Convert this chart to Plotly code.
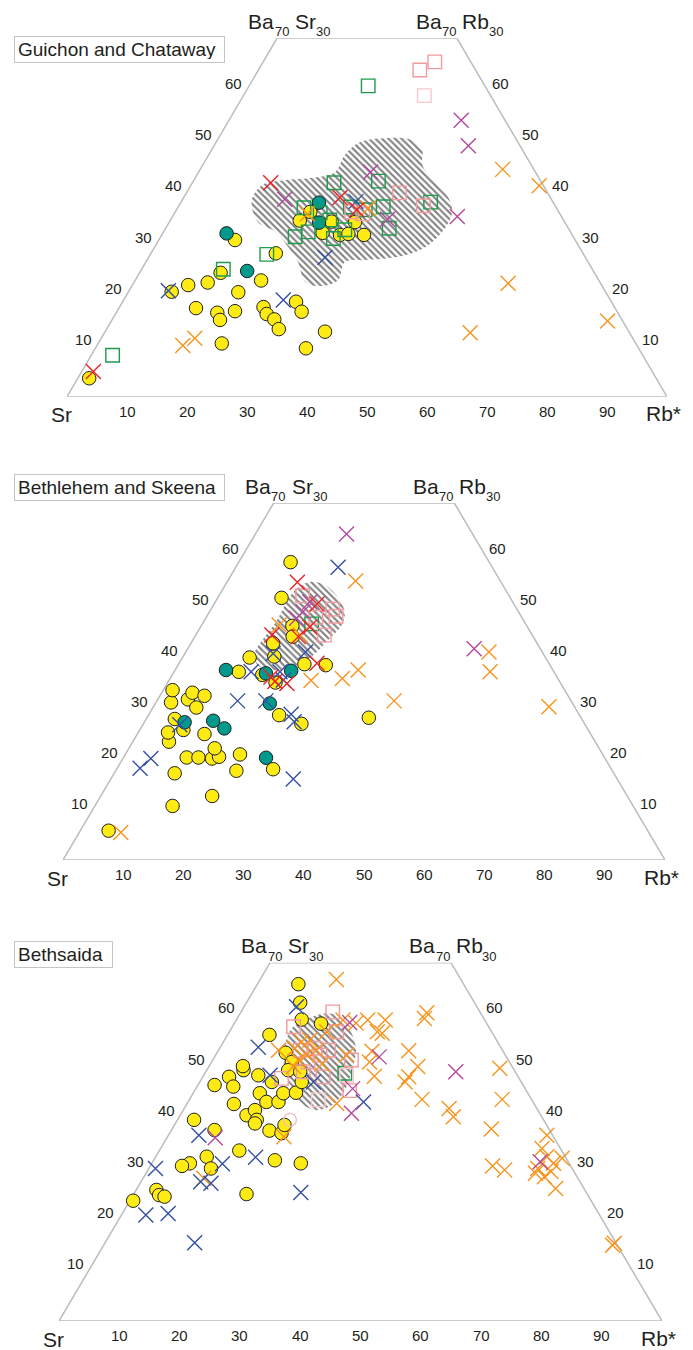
import plotly.graph_objects as go

# Each composition is (Ba, Rb*) in percent of Ba + Sr + Rb*; Sr is the remainder.

# ---------------- Guichon and Chataway ----------------
gc_yellow = [(3.6, 1.9), (30.6, 12.7), (28.0, 20.8), (24.2, 13.5), (21.8, 9.3), (22.3, 12.3),
             (20.5, 7.2), (20.4, 18.35), (22.7, 21.0), (17.3, 12.85), (16.4, 16.85), (15.0, 18.0),
             (16.7, 19.65), (17.5, 24.0), (16.15, 25.2), (15.1, 27.0), (13.2, 28.7), (18.55, 28.9),
             (16.6, 30.8), (12.7, 36.65), (9.45, 35.1), (10.4, 20.6), (31.6, 33.7), (34.4, 21.6),
             (32.0, 26.6), (31.6, 29.7), (31.8, 31.0), (34.2, 27.0), (36.1, 22.5), (34.1, 30.95)]
gc_teal = [(31.9, 10.65), (24.55, 17.75), (37.9, 23.05), (34.0, 25.0)]
gc_green_sq = [(8.1, 3.55), (24.9, 13.6), (27.8, 19.4), (31.25, 22.4), (60.7, 19.85), (42.1, 30.85),
               (38.0, 41.6), (37.1, 34.15), (32.9, 37.25), (41.8, 23.6), (36.9, 21.05), (32.2, 24.1),
               (30.9, 28.95), (32.6, 30.0), (34.5, 26.55), (37.05, 28.7), (36.5, 31.45), (35.9, 24.25)]
gc_pink_sq = [(63.8, 26.9), (65.4, 28.6), (39.8, 35.5), (37.3, 40.75), (36.1, 29.4), (35.7, 31.45)]
gc_lightpink_sq = [(58.8, 30.15)]
gc_pink_ci = []
gc_red_x = [(4.9, 1.95), (41.8, 13.05), (38.9, 26.05), (36.5, 30.05)]
gc_magenta_x = [(38.55, 17.0), (43.9, 28.65), (34.65, 36.1), (35.2, 47.45), (54.0, 38.7), (49.0, 42.4)]
gc_orange_x = [(10.0, 14.3), (11.4, 15.6), (35.7, 22.2), (36.8, 31.8), (44.4, 50.4), (41.2, 58.1),
               (22.15, 62.45), (12.5, 60.95), (14.8, 82.7)]
gc_blue_x = [(20.7, 6.55), (18.9, 26.6), (27.2, 29.4), (38.1, 29.1)]
gc_field = [(38.4, 11.6), (41.3, 11.85), (42.3, 15.2), (42.7, 19.15), (43.9, 22.75), (47.2, 22.7),
            (49.7, 23.95), (50.5, 27.75), (50.1, 32.45), (48.2, 35.1), (45.25, 36.6), (41.9, 40.35),
            (39.0, 44.0), (36.1, 46.15), (32.9, 46.55), (29.6, 45.4), (27.9, 43.25), (27.1, 40.25),
            (26.7, 36.35), (26.3, 33.15), (22.8, 33.8), (21.6, 31.4), (22.4, 28.5), (26.3, 25.35),
            (28.65, 22.9), (32.2, 18.6), (34.1, 14.75)]

# ---------------- Bethlehem and Skeena ----------------
bs_yellow = [(5.75, 4.7), (10.6, 12.9), (17.0, 10.05), (12.55, 18.5), (20.1, 10.5), (20.1, 12.45),
             (19.9, 14.8), (20.25, 15.8), (21.9, 14.25), (20.7, 19.05), (17.5, 20.05), (17.8, 26.0),
             (23.2, 6.0), (25.0, 4.95), (27.65, 4.75), (25.5, 7.25), (24.7, 11.15), (28.4, 21.7),
             (26.7, 26.25), (27.9, 36.85), (30.9, 2.5), (33.3, 1.55), (31.5, 5.0), (32.8, 5.1),
             (32.2, 7.4), (29.9, 7.2), (36.9, 10.75), (36.3, 14.95), (34.8, 17.9), (39.7, 11.15),
             (39.9, 15.15), (38.4, 20.9), (38.2, 24.55), (58.4, 8.6), (51.4, 10.6), (45.9, 15.15),
             (43.8, 16.25), (42.5, 13.65)]
bs_teal = [(27.0, 6.7), (27.3, 11.3), (25.8, 13.9), (20.05, 23.7), (30.7, 19.0), (37.25, 8.45),
           (36.6, 15.4), (37.1, 19.35)]
bs_green_sq = [(46.3, 18.15)]
bs_pink_sq = [(51.8, 13.9), (49.2, 20.2), (47.8, 21.45), (47.6, 18.2), (44.1, 21.35)]
bs_lightpink_sq = []
bs_pink_ci = []
bs_red_x = [(54.45, 11.7), (50.2, 17.1), (45.7, 18.15), (44.1, 12.65), (43.8, 17.2), (38.6, 22.9),
            (35.0, 17.7), (34.6, 19.9), (35.9, 16.6)]
bs_magenta_x = [(63.9, 15.15), (41.4, 47.6), (50.6, 15.7), (48.7, 15.55), (47.4, 15.1)]
bs_orange_x = [(5.4, 6.9), (35.2, 23.6), (35.6, 28.6), (37.25, 30.4), (31.2, 39.4), (40.8, 50.35),
               (36.9, 52.5), (30.05, 65.7), (54.7, 21.25), (46.1, 12.85), (44.1, 17.35)]
bs_blue_x = [(18.0, 3.8), (19.9, 4.65), (31.2, 13.4), (31.2, 18.1), (28.6, 23.6), (27.1, 24.85),
             (15.9, 30.3), (26.5, 6.15), (36.9, 12.8), (36.9, 17.6), (40.5, 14.65), (40.8, 19.9),
             (57.4, 17.0), (35.3, 18.95)]
bs_field = [(40.8, 11.5), (43.1, 11.55), (46.7, 12.05), (50.0, 11.9), (52.9, 12.05), (54.5, 13.75),
            (53.9, 16.55), (51.4, 20.0), (48.6, 22.5), (46.1, 23.25), (43.1, 22.45), (40.0, 21.4),
            (37.8, 19.1), (37.25, 15.8), (38.4, 13.0)]

# ---------------- Bethsaida ----------------
bt_yellow = [(65.8, 6.8), (62.2, 8.9), (58.9, 10.8), (58.1, 14.4), (55.9, 6.95), (52.4, 11.4),
             (50.6, 13.3), (49.0, 13.5), (48.0, 9.05), (49.0, 6.1), (49.8, 5.6), (47.7, 4.35),
             (45.8, 6.0), (46.1, 2.75), (46.7, 11.95), (44.5, 11.05), (42.8, 13.0), (42.8, 15.0),
             (44.5, 14.95), (44.6, 17.0), (46.7, 16.9), (48.7, 15.65), (42.4, 7.8), (40.2, 11.0),
             (41.2, 11.9), (39.3, 13.15), (38.6, 13.2), (37.2, 16.3), (36.7, 18.55), (38.3, 18.25),
             (33.3, 13.25), (31.4, 20.1), (39.3, 2.75), (37.3, 7.15), (30.8, 24.7), (32.1, 8.45),
             (29.8, 10.3), (30.8, 6.3), (30.3, 5.25), (25.6, 3.35), (24.6, 4.3), (24.3, 5.35),
             (23.5, 0.55), (24.8, 18.7)]
bt_teal = []
bt_green_sq = [(48.4, 23.2)]
bt_pink_sq = [(60.4, 15.2), (57.5, 10.15), (56.5, 17.8), (52.9, 13.55), (53.3, 15.8), (51.95, 17.3),
              (52.9, 18.25), (51.0, 23.0), (45.0, 25.7), (47.4, 13.2), (48.7, 16.15), (47.7, 19.95),
              (50.6, 16.0)]
bt_lightpink_sq = [(48.0, 23.7), (43.2, 21.4)]
bt_pink_ci = [(39.3, 18.65)]
bt_red_x = []
bt_magenta_x = [(58.3, 19.05), (51.6, 27.3), (45.4, 26.0), (40.6, 28.2), (48.7, 41.45), (35.8, 8.0),
                (31.1, 64.25)]
bt_orange_x = [(66.7, 12.65), (36.0, 19.3), (52.9, 9.95), (54.55, 12.95), (52.9, 16.25), (42.5, 24.8),
               (58.2, 20.15), (58.8, 21.8), (56.5, 24.55), (58.8, 24.7), (56.2, 25.5), (52.7, 25.55),
               (50.6, 26.2), (47.8, 28.4), (58.8, 17.7), (56.5, 16.15), (51.95, 21.7), (51.95, 15.1),
               (51.0, 14.2), (49.7, 14.05), (59.1, 31.05), (60.2, 30.9), (52.8, 31.6), (49.7, 34.65),
               (47.7, 34.15), (46.7, 34.05), (43.3, 38.55), (41.5, 43.95), (39.9, 45.45), (37.5, 52.95),
               (49.4, 48.4), (43.3, 51.85), (36.3, 62.75), (30.3, 56.75), (29.5, 59.15), (33.7, 63.25),
               (32.1, 64.85), (31.8, 67.55), (30.8, 66.6), (29.8, 64.5), (28.85, 64.6), (29.2, 67.0),
               (28.2, 66.4), (25.9, 69.4), (15.2, 84.5), (14.8, 84.4), (27.9, 10.05), (54.9, 14.15),
               (53.3, 12.45), (50.2, 18.5)]
bt_blue_x = [(61.4, 8.7), (53.5, 6.3), (48.0, 11.0), (42.8, 29.1), (32.0, 16.6), (36.3, 5.05),
             (30.7, 11.75), (29.8, 1.1), (27.2, 9.9), (26.9, 11.75), (25.1, 27.55), (20.7, 4.05),
             (21.0, 7.6), (15.3, 14.85), (46.7, 18.85)]
bt_field = [(53.9, 10.55), (57.2, 10.0), (58.8, 11.4), (60.0, 13.6), (59.6, 16.5), (56.8, 19.9),
            (52.9, 22.8), (49.0, 24.1), (45.1, 24.85), (42.2, 24.2), (41.2, 21.85), (42.8, 18.6),
            (46.1, 15.25), (50.0, 12.3)]

BOTTOM_TICKS = [10, 20, 30, 40, 50, 60, 70, 80, 90]
SIDE_TICKS = [10, 20, 30, 40, 50, 60]
BA_MAX = 70

# ---------------- layout geometry (pixels) ----------------
FIG_W, FIG_H = 693, 1350
panels = [
    dict(title="Guichon and Chataway", left=67, right=667, base=396.7, top=38.3,
         box=(13.5, 36.0, 211),
         groups=dict(field=gc_field, yellow=gc_yellow, teal=gc_teal, pink_ci=gc_pink_ci,
                     green_sq=gc_green_sq, pink_sq=gc_pink_sq, lightpink_sq=gc_lightpink_sq,
                     orange_x=gc_orange_x, blue_x=gc_blue_x, magenta_x=gc_magenta_x, red_x=gc_red_x)),
    dict(title="Bethlehem and Skeena", left=63, right=665, base=860.0, top=503.0,
         box=(14.0, 474.0, 211),
         groups=dict(field=bs_field, yellow=bs_yellow, teal=bs_teal, pink_ci=bs_pink_ci,
                     green_sq=bs_green_sq, pink_sq=bs_pink_sq, lightpink_sq=bs_lightpink_sq,
                     orange_x=bs_orange_x, blue_x=bs_blue_x, magenta_x=bs_magenta_x, red_x=bs_red_x)),
    dict(title="Bethsaida", left=59, right=662, base=1321.0, top=962.7,
         box=(13.5, 940.7, 99),
         groups=dict(field=bt_field, yellow=bt_yellow, teal=bt_teal, pink_ci=bt_pink_ci,
                     green_sq=bt_green_sq, pink_sq=bt_pink_sq, lightpink_sq=bt_lightpink_sq,
                     orange_x=bt_orange_x, blue_x=bt_blue_x, magenta_x=bt_magenta_x, red_x=bt_red_x)),
]

OUTLINE = "#1e1e1e"
STYLES = {
    "yellow": dict(symbol="circle", size=13.5, color="#ffeb14", line=dict(color=OUTLINE, width=1)),
    "teal": dict(symbol="circle", size=13.5, color="#00998b", line=dict(color=OUTLINE, width=1)),
    "pink_ci": dict(symbol="circle-open", size=13, color="#f7bcc2", line=dict(color="#f7bcc2", width=1.4)),
    "green_sq": dict(symbol="square-open", size=13.5, color="#1f9a4d", line=dict(color="#1f9a4d", width=1.4)),
    "pink_sq": dict(symbol="square-open", size=13.5, color="#f39a9e", line=dict(color="#f39a9e", width=1.4)),
    "lightpink_sq": dict(symbol="square-open", size=13.5, color="#f8c8cb", line=dict(color="#f8c8cb", width=1.4)),
    "orange_x": dict(symbol="x-thin-open", size=15, color="#f7941d", line=dict(color="#f7941d", width=1.4)),
    "blue_x": dict(symbol="x-thin-open", size=15, color="#3450a2", line=dict(color="#3450a2", width=1.4)),
    "magenta_x": dict(symbol="x-thin-open", size=15, color="#b4489d", line=dict(color="#b4489d", width=1.4)),
    "red_x": dict(symbol="x-thin-open", size=15, color="#ed2024", line=dict(color="#ed2024", width=1.4)),
}
DRAW_ORDER = ["yellow", "teal", "pink_ci", "green_sq", "pink_sq", "lightpink_sq",
              "orange_x", "blue_x", "magenta_x", "red_x"]

# apex labels built from pieces: (text, font size, x offset from apex, y offset above apex)
APEX_LEFT = [("Ba", 21, -31, 16.8), ("70", 13, -4.5, 6.5), ("Sr", 21, 16, 16.8), ("30", 13, 37, 6.5)]
APEX_RIGHT = [("Ba", 21, -43.5, 16.8), ("70", 13, -17.3, 6.5), ("Rb", 21, 3, 16.8), ("30", 13, 29.5, 6.5)]


def to_xy(points):
    """Ternary (Ba, Rb*) -> plane: x along Sr-Rb* base, y = Ba."""
    xs = [rb + ba / 2.0 for ba, rb in points]
    ys = [ba for ba, _ in points]
    return xs, ys


FONT = "Arial, Liberation Sans, Helvetica, sans-serif"
TEXT = "#231f20"
FRAME = "#bcbcbc"

fig = go.Figure()
annotations = []
layout_axes = {}

for i, p in enumerate(panels, start=1):
    sfx = "" if i == 1 else str(i)
    xa, ya = "x" + sfx, "y" + sfx
    layout_axes["xaxis" + sfx] = dict(domain=[p["left"] / FIG_W, p["right"] / FIG_W], range=[0, 100],
                                      visible=False, fixedrange=True, anchor=ya)
    layout_axes["yaxis" + sfx] = dict(domain=[1 - p["base"] / FIG_H, 1 - p["top"] / FIG_H],
                                      range=[0, BA_MAX], visible=False, fixedrange=True, anchor=xa)

    # hatched field
    fx, fy = to_xy(p["groups"]["field"] + p["groups"]["field"][:1])
    fig.add_trace(go.Scatter(x=fx, y=fy, xaxis=xa, yaxis=ya, mode="lines", fill="toself",
                             line=dict(width=0, shape="spline", smoothing=1.0),
                             fillcolor="rgba(255,255,255,0)",
                             fillpattern=dict(shape="\\", size=4.6, solidity=0.45,
                                              fgcolor="#000000", bgcolor="rgba(255,255,255,0)"),
                             hoverinfo="skip"))

    # trapezoid frame: Sr, Rb*, Ba70Rb30, Ba70Sr30
    corners = [(0, 0), (0, 100), (BA_MAX, 100 - BA_MAX), (BA_MAX, 0), (0, 0)]
    cx, cy = to_xy(corners)
    fig.add_trace(go.Scatter(x=cx, y=cy, xaxis=xa, yaxis=ya, mode="lines",
                             line=dict(color=FRAME, width=1.5), hoverinfo="skip", cliponaxis=False))

    for key in DRAW_ORDER:
        pts = p["groups"][key]
        if not pts:
            continue
        x, y = to_xy(pts)
        fig.add_trace(go.Scatter(x=x, y=y, xaxis=xa, yaxis=ya, mode="markers",
                                 marker=STYLES[key], cliponaxis=False, hoverinfo="skip"))

    # tick labels
    for v in BOTTOM_TICKS:
        annotations.append(dict(x=v, y=0, xref=xa, yref=ya, text=str(v), showarrow=False,
                                xanchor="center", yanchor="top", yshift=-4,
                                font=dict(family=FONT, size=15, color=TEXT)))
    for v in SIDE_TICKS:
        lx, ly = to_xy([(v, 0)])
        annotations.append(dict(x=lx[0], y=ly[0], xref=xa, yref=ya, text=str(v), showarrow=False,
                                xanchor="right", yanchor="middle", xshift=-3, yshift=6,
                                font=dict(family=FONT, size=15, color=TEXT)))
        rx, ry = to_xy([(v, 100 - v)])
        annotations.append(dict(x=rx[0], y=ry[0], xref=xa, yref=ya, text=str(v), showarrow=False,
                                xanchor="left", yanchor="middle", xshift=3, yshift=6,
                                font=dict(family=FONT, size=15, color=TEXT)))

    # apex labels
    for apex, pieces in (((BA_MAX, 0), APEX_LEFT), ((BA_MAX, 100 - BA_MAX), APEX_RIGHT)):
        ax_, ay_ = to_xy([apex])
        for txt, fs, dx, dy in pieces:
            annotations.append(dict(x=ax_[0], y=ay_[0], xref=xa, yref=ya, text=txt, showarrow=False,
                                    xanchor="left", yanchor="middle", xshift=dx, yshift=dy,
                                    font=dict(family=FONT, size=fs, color=TEXT)))

    # corner labels
    annotations.append(dict(x=0, y=0, xref=xa, yref=ya, text="Sr", showarrow=False,
                            xanchor="center", yanchor="middle", xshift=-6, yshift=-18,
                            font=dict(family=FONT, size=21, color=TEXT)))
    annotations.append(dict(x=100, y=0, xref=xa, yref=ya, text="Rb*", showarrow=False,
                            xanchor="center", yanchor="middle", xshift=-4, yshift=-17,
                            font=dict(family=FONT, size=21, color=TEXT)))

    # title box
    bx, by, bw = p["box"]
    annotations.append(dict(x=bx / FIG_W, y=1 - by / FIG_H, xref="paper", yref="paper",
                            text=p["title"], showarrow=False, xanchor="left", yanchor="top",
                            align="left", width=bw - 8, height=19, borderpad=3, borderwidth=1,
                            bordercolor="#c4c4c4", bgcolor="white",
                            font=dict(family=FONT, size=19, color=TEXT)))

fig.update_layout(width=FIG_W, height=FIG_H, autosize=False,
                  margin=dict(l=0, r=0, t=0, b=0),
                  paper_bgcolor="white", plot_bgcolor="rgba(0,0,0,0)",
                  showlegend=False, annotations=annotations, **layout_axes)

fig.write_html("out.html")
